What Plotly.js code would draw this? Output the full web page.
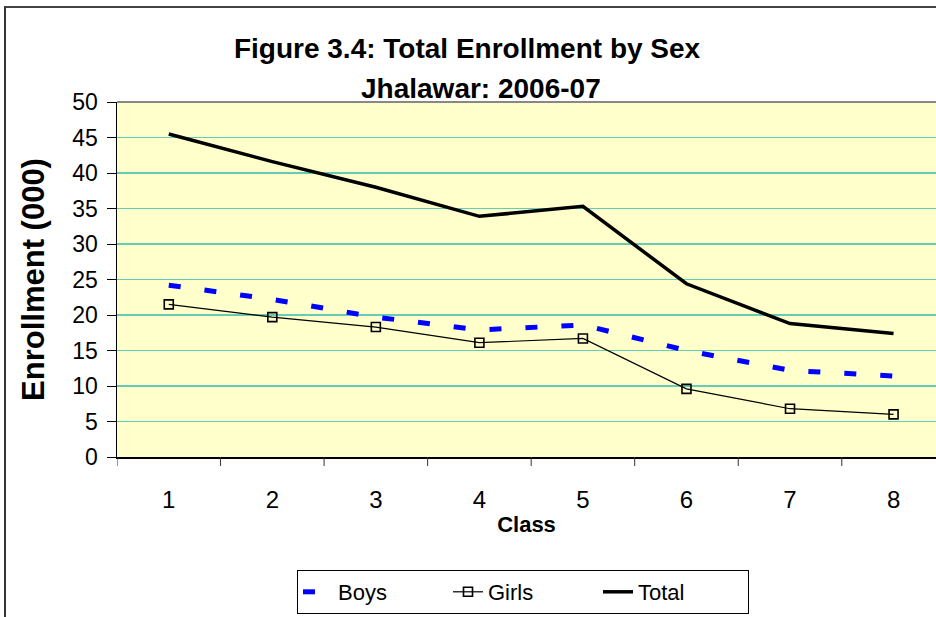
<!DOCTYPE html>
<html>
<head>
<meta charset="utf-8">
<script src="https://cdn.plot.ly/plotly-3.0.1.min.js"></script>
<style>
  html, body { margin: 0; padding: 0; background: #fff; }
  #chart { width: 936px; height: 617px; position: relative; }
  #frame { position: absolute; left: 4px; top: 6px; width: 940px; height: 620px;
           border-left: 2px solid #333; border-top: 2px solid #444; pointer-events: none; }
</style>
</head>
<body>
<div id="chart"></div>
<div id="frame"></div>
<script>
const classes = [1, 2, 3, 4, 5, 6, 7, 8];
const boys  = [24.2, 22.2, 19.7, 17.9, 18.6, 15.0, 12.2, 11.4];
const girls = [21.5, 19.7, 18.3, 16.1, 16.7, 9.6, 6.8, 6.0];
const total = [45.5, 41.6, 38.0, 33.9, 35.3, 24.4, 18.8, 17.4];
const yTicks = [0, 5, 10, 15, 20, 25, 30, 35, 40, 45, 50];

const FONT = 'Arial, "Liberation Sans", sans-serif';

const traces = [
  { x: classes, y: boys, name: 'Boys', type: 'scatter', mode: 'lines',
    line: { color: '#0000FF', width: 5, dash: '12px,24px' } },
  { x: classes, y: girls, name: 'Girls', type: 'scatter', mode: 'lines+markers',
    line: { color: '#000000', width: 1.2 },
    marker: { symbol: 'square-open', size: 9, color: '#000000', line: { width: 1.6, color: '#000' } } },
  { x: classes, y: total, name: 'Total', type: 'scatter', mode: 'lines',
    line: { color: '#000000', width: 3.5 } }
];

const layout = {
  width: 936, height: 617,
  margin: { l: 117, r: 0, t: 102, b: 160 },
  paper_bgcolor: '#FFFFFF',
  plot_bgcolor: '#FFFFCC',
  font: { family: FONT, color: '#000' },
  showlegend: true,
  title: { text: '<b>Figure 3.4: Total Enrollment by Sex</b>',
           font: { family: FONT, size: 28, color: '#000' },
           x: 0.499, xref: 'container', xanchor: 'center',
           y: 1 - 48 / 617, yref: 'container', yanchor: 'middle' },
  annotations: [
    { text: '<b>Jhalawar: 2006-07</b>', xref: 'paper', yref: 'paper',
      x: (481 - 117) / 819, y: 1 + (102 - 88) / 355, xanchor: 'center', yanchor: 'middle',
      showarrow: false, font: { family: FONT, size: 28, color: '#000' } }
  ],
  xaxis: {
    type: 'linear', range: [0.5, 8.41], tickmode: 'array', tickvals: classes,
    ticktext: classes.map(String),
    showgrid: false, zeroline: false,
    showline: true, linecolor: '#000', linewidth: 1.5,
    ticks: '', tickfont: { size: 24, family: FONT },
    ticklabelstandoff: 21,
    title: { text: '<b>Class</b>', font: { size: 22, family: FONT }, standoff: 4 }
  },
  yaxis: {
    range: [0, 50], tickmode: 'array', tickvals: yTicks,
    showgrid: true, gridcolor: '#66CCB3', gridwidth: 1.2,
    zeroline: false, showline: true, linecolor: '#000', linewidth: 1.5,
    ticks: 'outside', ticklen: 9, tickcolor: '#000', tickwidth: 1,
    ticklabelstandoff: 4,
    tickfont: { size: 23, family: FONT },
    title: { text: '<b>Enrollment (000)</b>', font: { size: 31, family: FONT }, standoff: 18 }
  },
  shapes: [
    { type: 'line', xref: 'paper', yref: 'paper', x0: 0, x1: 1, y0: 1, y1: 1,
      line: { color: '#888', width: 2 } }
  ].concat(classes.map(c => ({
    type: 'line', xref: 'x', yref: 'paper', x0: c - 0.5, x1: c - 0.5, y0: 0, y1: -9 / 355,
    line: { color: '#333', width: 1 } }))),
  legend: {
    orientation: 'h', xref: 'container', yref: 'container',
    x: 523 / 936, xanchor: 'center', y: (617 - 592) / 617, yanchor: 'middle',
    bordercolor: '#000', borderwidth: 1, bgcolor: '#fff',
    font: { size: 22, family: FONT }, entrywidth: 105, entrywidthmode: 'pixels', tracegroupgap: 0
  }
};

Plotly.newPlot('chart', traces, layout, { displayModeBar: false, staticPlot: true });
</script>
</body>
</html>
